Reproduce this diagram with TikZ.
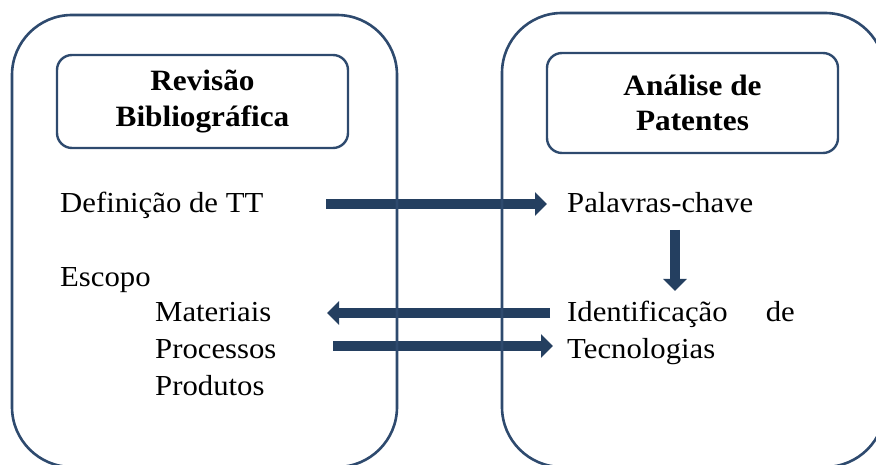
\documentclass[tikz,border=0pt]{standalone}
\usepackage{fontspec}
\setmainfont[FakeStretch=1.06]{Liberation Serif}
\usetikzlibrary{arrows.meta}
\definecolor{frameblue}{HTML}{2E4A6E}
\definecolor{arrowblue}{HTML}{243F60}
\tikzset{
  panel/.style={draw=frameblue, line width=2.6pt, rounded corners=60pt},
  titlebox/.style={draw=frameblue, line width=2.4pt, rounded corners=15pt,
    minimum width=291pt, align=center, font=\fontsize{29.5}{35.5}\selectfont\bfseries,
    inner sep=0pt},
  body/.style={anchor=base west, inner sep=0pt, font=\fontsize{29}{35}\selectfont},
  bigarrow/.style={draw=arrowblue, line width=10pt,
    -{Triangle[width=23pt,length=12pt]}}
}
\begin{document}
\begin{tikzpicture}[x=1pt,y=-1pt]
\useasboundingbox (0,0) rectangle (876,465);
\clip (0,0) rectangle (876,465);

% text on the left panel
\node[body] (def) at (60,213) {Definição de TT};
\node[body] (esc) at (60,287) {Escopo};
\node[body] (mat) at (155,322) {Materiais};
\node[body] (pro) at (155,358) {Processos};
\node[body] (prd) at (155,395) {Produtos};

% text on the right panel
\node[body] (pal) at (567,213) {Palavras-chave};
\node[body] (ide) at (567,322) {Identificação};
\node[body, anchor=base east] (ide2) at (795,322) {de};
\node[body] (tec) at (567,358) {Tecnologias};

% arrow end points
\coordinate (a1s) at (326,204);
\coordinate (a1e) at (547,204);
\coordinate (a2s) at (675,230);
\coordinate (a2e) at (675,291);
\coordinate (a3s) at (550,313);
\coordinate (a3e) at (327,313);
\coordinate (a4s) at (333,346);
\coordinate (a4e) at (553,346);

\draw[bigarrow] (a1s) -- (a1e);
\draw[bigarrow] (a2s) -- (a2e);
\draw[bigarrow] (a3s) -- (a3e);
\draw[bigarrow] (a4s) -- (a4e);

% the two panels
\draw[panel] (12,15) rectangle (397,467);
\draw[panel] (502,13) rectangle (885,467);

% panel titles
\node[titlebox, minimum height=93pt] (rev) at (202.5,101.5)
  {Revisão\\Bibliográfica};
\node[titlebox, minimum height=100pt] (ana) at (692.5,103)
  {Análise de\\Patentes};
\end{tikzpicture}
\end{document}
